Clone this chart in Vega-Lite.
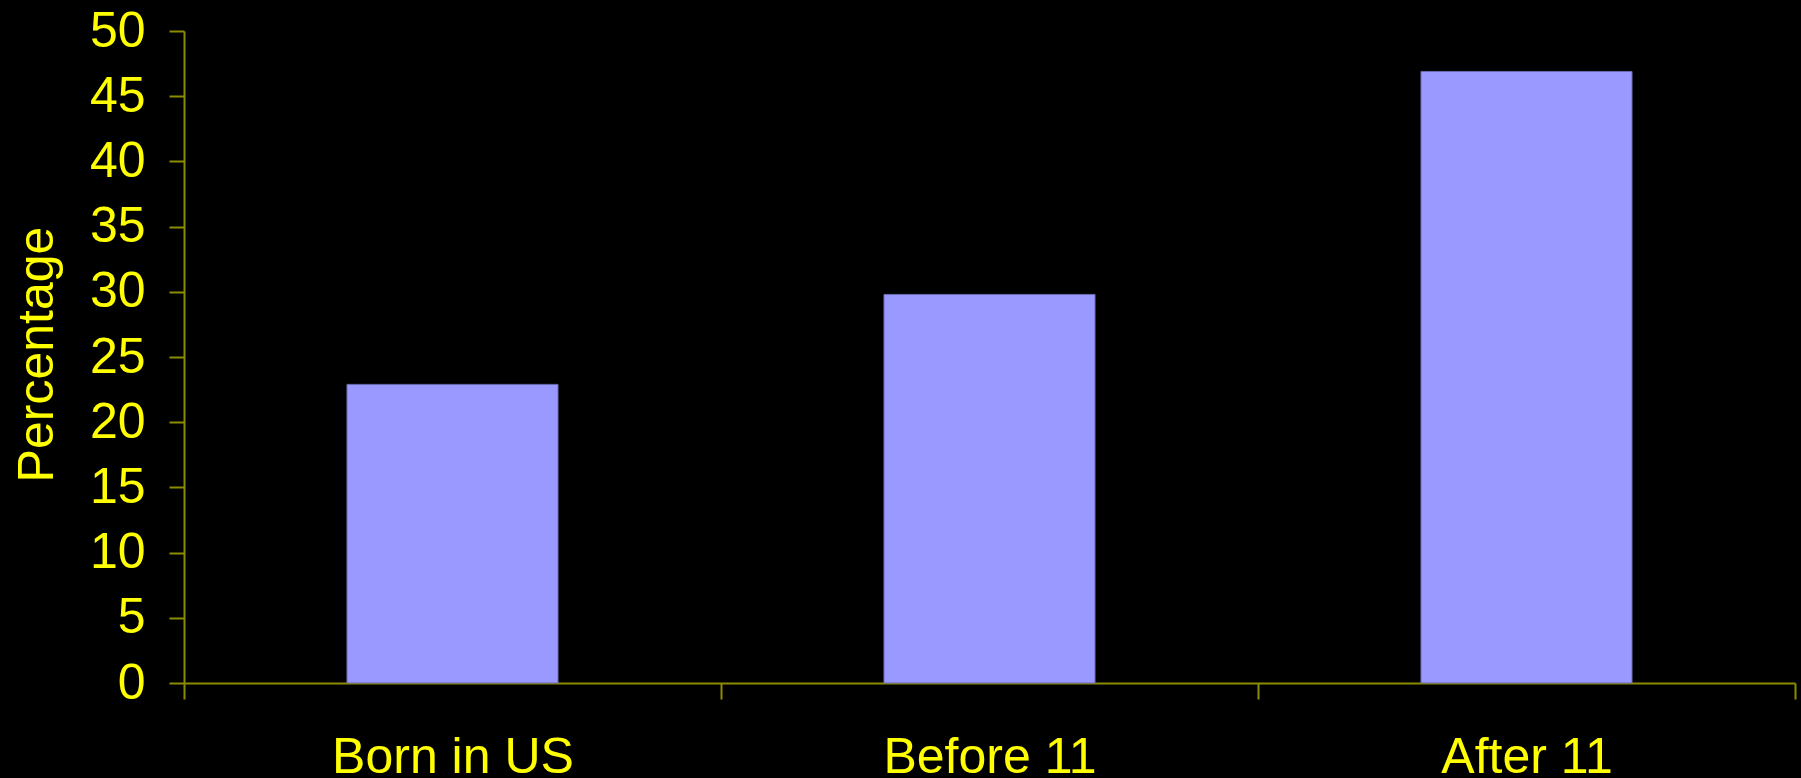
{
  "$schema": "https://vega.github.io/schema/vega-lite/v6.json",
  "autosize": "none",
  "width": 1611,
  "height": 652,
  "padding": {"left": 184, "top": 31, "right": 6, "bottom": 95},
  "background": "#000000",
  "config": {
    "view": {"stroke": null},
    "font": "Liberation Sans"
  },
  "data": {
    "values": [
      {"group": "Born in US", "pct": 22.9},
      {"group": "Before 11", "pct": 29.8},
      {"group": "After 11", "pct": 46.9}
    ]
  },
  "mark": {"type": "bar", "width": {"band": 0.393}, "fill": "#9999ff", "stroke": "#6a6ab0", "strokeWidth": 1},
  "encoding": {
    "x": {
      "field": "group",
      "type": "nominal",
      "sort": null,
      "scale": {"paddingInner": 0, "paddingOuter": 0},
      "axis": {
        "title": null,
        "labelAngle": 0,
        "labelLimit": 0,
        "labelFont": "Liberation Sans",
        "labelFontSize": 50,
        "labelColor": "#ffff00",
        "labelBaseline": "alphabetic",
        "labelPadding": 73,
        "tickBand": "extent",
        "tickSize": 16,
        "tickWidth": 2,
        "tickColor": "#8c8c00",
        "domainColor": "#8c8c00",
        "domainWidth": 2,
        "grid": false
      }
    },
    "y": {
      "field": "pct",
      "type": "quantitative",
      "scale": {"domain": [0, 50], "nice": false},
      "axis": {
        "title": "Percentage",
        "titleFont": "Liberation Sans",
        "titleFontSize": 50,
        "titleFontWeight": "normal",
        "titleColor": "#ffff00",
        "titleBaseline": "alphabetic",
        "titleAngle": -90,
        "titleAlign": "center",
        "titleX": -132,
        "titleY": 323,
        "values": [0, 5, 10, 15, 20, 25, 30, 35, 40, 45, 50],
        "labelFont": "Liberation Sans",
        "labelFontSize": 50,
        "labelColor": "#ffff00",
        "labelPadding": 24,
        "labelBaseline": "middle",
        "tickSize": 15,
        "tickWidth": 2,
        "tickColor": "#8c8c00",
        "domainColor": "#8c8c00",
        "domainWidth": 2,
        "grid": false
      }
    }
  }
}
